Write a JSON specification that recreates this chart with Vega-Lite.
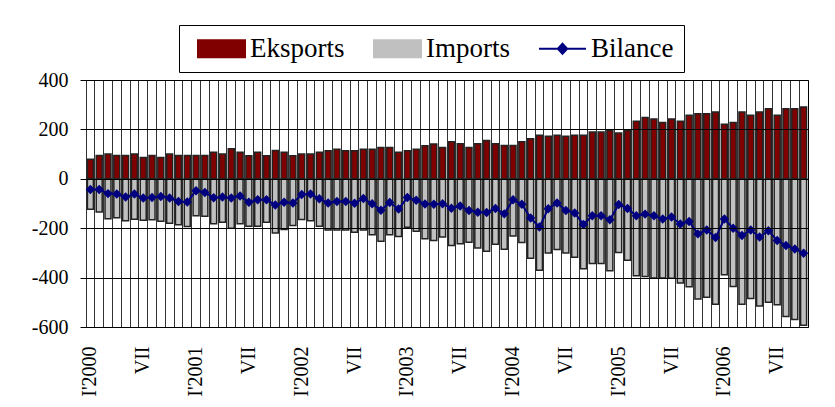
{
 "$schema": "https://vega.github.io/schema/vega-lite/v6.json",
 "autosize": "none",
 "width": 722,
 "height": 247,
 "padding": {"left": 86, "top": 80, "right": 27, "bottom": 80},
 "background": "white",
 "config": {"view": {"stroke": "black", "strokeWidth": 1}, "font": "Liberation Serif, DejaVu Serif, serif"},
 "data": {"values": [
  {"m":"2000-01","Eksports":79,"Imports":-123,"Bilance":-43},
  {"m":"2000-02","Eksports":94,"Imports":-134,"Bilance":-43},
  {"m":"2000-03","Eksports":100,"Imports":-162,"Bilance":-60},
  {"m":"2000-04","Eksports":94,"Imports":-158,"Bilance":-62},
  {"m":"2000-05","Eksports":94,"Imports":-170,"Bilance":-74},
  {"m":"2000-06","Eksports":100,"Imports":-164,"Bilance":-62},
  {"m":"2000-07","Eksports":86,"Imports":-168,"Bilance":-78},
  {"m":"2000-08","Eksports":94,"Imports":-166,"Bilance":-76},
  {"m":"2000-09","Eksports":86,"Imports":-172,"Bilance":-72},
  {"m":"2000-10","Eksports":100,"Imports":-180,"Bilance":-78},
  {"m":"2000-11","Eksports":94,"Imports":-186,"Bilance":-92},
  {"m":"2000-12","Eksports":94,"Imports":-193,"Bilance":-94},
  {"m":"2001-01","Eksports":94,"Imports":-150,"Bilance":-48},
  {"m":"2001-02","Eksports":94,"Imports":-152,"Bilance":-55},
  {"m":"2001-03","Eksports":107,"Imports":-182,"Bilance":-77},
  {"m":"2001-04","Eksports":100,"Imports":-176,"Bilance":-74},
  {"m":"2001-05","Eksports":122,"Imports":-200,"Bilance":-78},
  {"m":"2001-06","Eksports":107,"Imports":-182,"Bilance":-70},
  {"m":"2001-07","Eksports":93,"Imports":-192,"Bilance":-95},
  {"m":"2001-08","Eksports":107,"Imports":-192,"Bilance":-85},
  {"m":"2001-09","Eksports":93,"Imports":-176,"Bilance":-85},
  {"m":"2001-10","Eksports":115,"Imports":-219,"Bilance":-106},
  {"m":"2001-11","Eksports":107,"Imports":-205,"Bilance":-95},
  {"m":"2001-12","Eksports":93,"Imports":-189,"Bilance":-98},
  {"m":"2002-01","Eksports":100,"Imports":-165,"Bilance":-64},
  {"m":"2002-02","Eksports":100,"Imports":-170,"Bilance":-62},
  {"m":"2002-03","Eksports":107,"Imports":-192,"Bilance":-81},
  {"m":"2002-04","Eksports":114,"Imports":-207,"Bilance":-98},
  {"m":"2002-05","Eksports":120,"Imports":-207,"Bilance":-92},
  {"m":"2002-06","Eksports":114,"Imports":-207,"Bilance":-92},
  {"m":"2002-07","Eksports":114,"Imports":-216,"Bilance":-99},
  {"m":"2002-08","Eksports":120,"Imports":-207,"Bilance":-80},
  {"m":"2002-09","Eksports":120,"Imports":-227,"Bilance":-101},
  {"m":"2002-10","Eksports":127,"Imports":-253,"Bilance":-127},
  {"m":"2002-11","Eksports":127,"Imports":-227,"Bilance":-96},
  {"m":"2002-12","Eksports":107,"Imports":-234,"Bilance":-122},
  {"m":"2003-01","Eksports":114,"Imports":-196,"Bilance":-76},
  {"m":"2003-02","Eksports":120,"Imports":-212,"Bilance":-87},
  {"m":"2003-03","Eksports":134,"Imports":-243,"Bilance":-102},
  {"m":"2003-04","Eksports":141,"Imports":-250,"Bilance":-103},
  {"m":"2003-05","Eksports":127,"Imports":-236,"Bilance":-101},
  {"m":"2003-06","Eksports":150,"Imports":-270,"Bilance":-119},
  {"m":"2003-07","Eksports":142,"Imports":-263,"Bilance":-110},
  {"m":"2003-08","Eksports":127,"Imports":-257,"Bilance":-128},
  {"m":"2003-09","Eksports":142,"Imports":-280,"Bilance":-135},
  {"m":"2003-10","Eksports":155,"Imports":-293,"Bilance":-136},
  {"m":"2003-11","Eksports":142,"Imports":-265,"Bilance":-120},
  {"m":"2003-12","Eksports":135,"Imports":-285,"Bilance":-142},
  {"m":"2004-01","Eksports":135,"Imports":-232,"Bilance":-85},
  {"m":"2004-02","Eksports":150,"Imports":-258,"Bilance":-103},
  {"m":"2004-03","Eksports":162,"Imports":-322,"Bilance":-159},
  {"m":"2004-04","Eksports":176,"Imports":-370,"Bilance":-195},
  {"m":"2004-05","Eksports":172,"Imports":-300,"Bilance":-121},
  {"m":"2004-06","Eksports":176,"Imports":-286,"Bilance":-98},
  {"m":"2004-07","Eksports":172,"Imports":-300,"Bilance":-128},
  {"m":"2004-08","Eksports":176,"Imports":-318,"Bilance":-138},
  {"m":"2004-09","Eksports":176,"Imports":-364,"Bilance":-185},
  {"m":"2004-10","Eksports":189,"Imports":-343,"Bilance":-150},
  {"m":"2004-11","Eksports":189,"Imports":-343,"Bilance":-150},
  {"m":"2004-12","Eksports":196,"Imports":-372,"Bilance":-166},
  {"m":"2005-01","Eksports":185,"Imports":-298,"Bilance":-104},
  {"m":"2005-02","Eksports":196,"Imports":-330,"Bilance":-120},
  {"m":"2005-03","Eksports":233,"Imports":-393,"Bilance":-150},
  {"m":"2005-04","Eksports":248,"Imports":-396,"Bilance":-143},
  {"m":"2005-05","Eksports":242,"Imports":-402,"Bilance":-150},
  {"m":"2005-06","Eksports":228,"Imports":-402,"Bilance":-163},
  {"m":"2005-07","Eksports":242,"Imports":-403,"Bilance":-155},
  {"m":"2005-08","Eksports":233,"Imports":-422,"Bilance":-183},
  {"m":"2005-09","Eksports":257,"Imports":-437,"Bilance":-173},
  {"m":"2005-10","Eksports":263,"Imports":-487,"Bilance":-223},
  {"m":"2005-11","Eksports":263,"Imports":-480,"Bilance":-207},
  {"m":"2005-12","Eksports":270,"Imports":-508,"Bilance":-238},
  {"m":"2006-01","Eksports":221,"Imports":-388,"Bilance":-163},
  {"m":"2006-02","Eksports":228,"Imports":-436,"Bilance":-200},
  {"m":"2006-03","Eksports":270,"Imports":-508,"Bilance":-230},
  {"m":"2006-04","Eksports":257,"Imports":-485,"Bilance":-207},
  {"m":"2006-05","Eksports":270,"Imports":-515,"Bilance":-236},
  {"m":"2006-06","Eksports":284,"Imports":-500,"Bilance":-210},
  {"m":"2006-07","Eksports":257,"Imports":-510,"Bilance":-250},
  {"m":"2006-08","Eksports":284,"Imports":-557,"Bilance":-270},
  {"m":"2006-09","Eksports":284,"Imports":-570,"Bilance":-284},
  {"m":"2006-10","Eksports":291,"Imports":-593,"Bilance":-301}
 ]},
 "transform": [{"fold": ["Eksports", "Imports", "Bilance"], "as": ["series", "value"]}],
 "layer": [
  {
   "transform": [{"filter": "datum.series !== 'Bilance'"}],
   "mark": {"type": "bar", "width": {"band": 0.68}, "stroke": "#222", "strokeWidth": 1.5},
   "encoding": {
    "x": {"field": "m", "type": "ordinal", "scale": {"paddingInner": 0, "paddingOuter": 0},
     "axis": {"orient": "bottom", "title": null, "domain": false, "ticks": false, "grid": false, "labelAngle": -90, "labelFontSize": 20, "labelPadding": 19, "labelColor": "black", "labelFont": "Liberation Serif, DejaVu Serif, serif", "labelOverlap": false,
      "labelExpr": "slice(datum.value, 5) == '01' ? \"I'\" + slice(datum.value, 0, 4) : (slice(datum.value, 5) == '07' ? 'VII' : '')"}},
    "y": {"field": "value", "type": "quantitative", "stack": null, "scale": {"domain": [-600, 400], "nice": false, "zero": false},
     "axis": {"title": null, "values": [-600, -400, -200, 0, 200, 400], "domain": false, "tickColor": "black", "tickSize": 6, "labelFontSize": 20, "labelColor": "black", "labelFont": "Liberation Serif, DejaVu Serif, serif", "labelPadding": 12, "gridColor": "black", "gridWidth": 1, "gridOpacity": 1, "zindex": 1, "labelExpr": "'' + datum.value"}},
    "color": {"field": "series", "type": "nominal",
     "scale": {"domain": ["Eksports", "Imports", "Bilance"], "range": ["#800000", "#c0c0c0", "#000080"]},
     "legend": {"orient": "none", "legendX": 93, "legendY": -55, "direction": "horizontal", "title": null, "strokeColor": "black", "fillColor": "white", "padding": 10, "labelFont": "Liberation Serif, DejaVu Serif, serif", "labelFontSize": 27, "labelColor": "black", "labelOffset": 34, "columnPadding": 20, "symbolSize": 289, "symbolStrokeWidth": 2, "symbolOpacity": 1}}
   }
  },
  {
   "transform": [{"filter": "datum.series === 'Bilance'"}],
   "mark": {"type": "line", "strokeWidth": 2},
   "encoding": {
    "x": {"field": "m", "type": "ordinal",
     "axis": {"orient": "top", "title": null, "labels": false, "ticks": false, "domain": false, "grid": true, "gridColor": "#333", "gridWidth": 1, "gridOpacity": 1, "bandPosition": 0, "zindex": 0}},
    "y": {"field": "value", "type": "quantitative"},
    "color": {"field": "series", "type": "nominal"}
   }
  },
  {
   "transform": [{"filter": "datum.series === 'Bilance'"}],
   "mark": {"type": "point", "shape": "diamond", "filled": true, "size": 90, "opacity": 1},
   "encoding": {
    "x": {"field": "m", "type": "ordinal", "axis": null},
    "y": {"field": "value", "type": "quantitative"},
    "color": {"field": "series", "type": "nominal"}
   }
  },
  {
   "mark": {"type": "point", "filled": true, "opacity": 0, "size": 1},
   "encoding": {
    "x": {"field": "m", "type": "ordinal", "axis": null},
    "y": {"field": "value", "type": "quantitative"},
    "color": {"field": "series", "type": "nominal"},
    "shape": {"field": "series", "type": "nominal",
     "scale": {"domain": ["Eksports", "Imports", "Bilance"], "range": ["M-0.53,-1H5V1H-0.53Z", "M-0.53,-1H5V1H-0.53Z", "M-0.53,0H5M2.235,-0.6L2.785,0L2.235,0.6L1.685,0Z"]}},
    "stroke": {"field": "series", "type": "nominal",
     "scale": {"domain": ["Eksports", "Imports", "Bilance"], "range": ["black", "black", "#000080"]}}
   }
  }
 ],
 "resolve": {"axis": {"x": "independent"}}
}
